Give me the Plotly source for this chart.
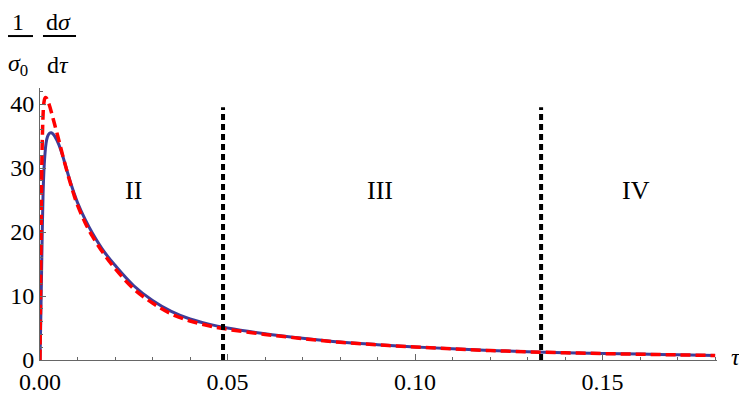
import plotly.graph_objects as go

# tau grid and the two distributions
tau = [0, 0.0002, 0.0004, 0.0006, 0.0008, 0.001, 0.0013, 0.0016, 0.002, 0.0025,
       0.003, 0.0035, 0.004, 0.005, 0.006, 0.007, 0.008, 0.009, 0.010, 0.012,
       0.014, 0.017, 0.020, 0.025, 0.030, 0.035, 0.040, 0.045, 0.050, 0.060,
       0.070, 0.080, 0.090, 0.100, 0.110, 0.120, 0.130, 0.140, 0.150, 0.160,
       0.170, 0.180]
blue = [0, 6, 13, 20, 25.5, 29, 32, 33.8, 34.9, 35.4,
        35.5, 35.3, 34.9, 33.7, 32.0, 30.0, 28.0, 26.2, 24.6, 22.0,
        19.8, 17.0, 14.8, 11.6, 9.3, 7.6, 6.4, 5.6, 5.0, 4.1,
        3.4, 2.8, 2.4, 2.05, 1.75, 1.5, 1.3, 1.15, 1.02, 0.92,
        0.82, 0.72]
red = [0, 14, 27, 34, 38, 40, 40.9, 41, 40.6, 39.8,
       38.8, 37.7, 36.6, 34.4, 32.1, 29.9, 27.8, 25.9, 24.2, 21.5,
       19.3, 16.6, 14.3, 11.1, 8.9, 7.2, 6.1, 5.35, 4.8, 4.0,
       3.35, 2.77, 2.37, 2.03, 1.73, 1.48, 1.28, 1.13, 1.0, 0.9,
       0.8, 0.7]

boundaries = [0.0488, 0.1336]
regions = ["II", "III", "IV"]
region_x = [0.0248, 0.0907, 0.159]

serif = "Liberation Serif"

fig = go.Figure()
fig.add_trace(go.Scatter(x=tau, y=blue, mode="lines", line_shape="spline",
                         line=dict(color="#3d3d99", width=3), showlegend=False))
fig.add_trace(go.Scatter(x=tau, y=red, mode="lines", line_shape="spline",
                         line=dict(color="#ff0000", width=3.5, dash="10px,5px"),
                         showlegend=False))

for b in boundaries:
    fig.add_shape(type="line", x0=b, x1=b, y0=0, y1=39.5, xref="x", yref="y",
                  line=dict(color="black", width=4, dash="6px,4px"))

for name, xr in zip(regions, region_x):
    fig.add_annotation(x=xr, y=26.5, text=name, showarrow=False,
                       font=dict(family=serif, size=26, color="black"))

# y label as two fractions: 1/sigma_0 and d sigma / d tau
lab = dict(family=serif, size=24, color="black")
frac = dict(xref="paper", yref="paper", showarrow=False, font=lab,
            xanchor="center", yanchor="middle")
fig.add_annotation(x=-0.0325, y=1.243, text="1", **frac)
fig.add_annotation(x=-0.033, y=1.085, text="<i>σ</i><sub>0</sub>", **frac)
fig.add_annotation(x=0.027, y=1.243, text="d<i>σ</i>", **frac)
fig.add_annotation(x=0.027, y=1.085, text="d<i>τ</i>", **frac)
fig.add_shape(type="line", xref="paper", yref="paper", x0=-0.0547, x1=-0.0103,
              y0=1.191, y1=1.191, line=dict(color="black", width=2))
fig.add_shape(type="line", xref="paper", yref="paper", x0=0.0044, x1=0.0532,
              y0=1.191, y1=1.191, line=dict(color="black", width=2))

fig.add_annotation(xref="paper", yref="paper", x=1.017, y=0.01, xanchor="left",
                   yanchor="middle", text="<i>τ</i>", showarrow=False, font=lab)

fig.update_layout(
    width=739, height=389,
    template="none",
    margin=dict(l=32, r=30, t=80, b=37, autoexpand=False),
    plot_bgcolor="white", paper_bgcolor="white",
    font=dict(family=serif, size=24, color="black"),
)
fig.update_xaxes(range=[0, 0.1805], showgrid=False, zeroline=False, automargin=False,
                 showline=True, linecolor="#666", linewidth=1,
                 ticks="inside", ticklen=6, tickcolor="#666",
                 tickvals=[0, 0.05, 0.10, 0.15],
                 ticktext=["0.00", "0.05", "0.10", "0.15"],
                 minor=dict(dtick=0.01, ticks="inside", ticklen=3, tickcolor="#666"))
fig.update_yaxes(range=[0, 42.5], showgrid=False, zeroline=False, automargin=False,
                 showline=True, linecolor="#666", linewidth=1,
                 ticks="inside", ticklen=6, tickcolor="#666",
                 tickvals=[0, 10, 20, 30, 40],
                 minor=dict(dtick=2, ticks="inside", ticklen=3, tickcolor="#666"))

fig.write_html("out.html")
